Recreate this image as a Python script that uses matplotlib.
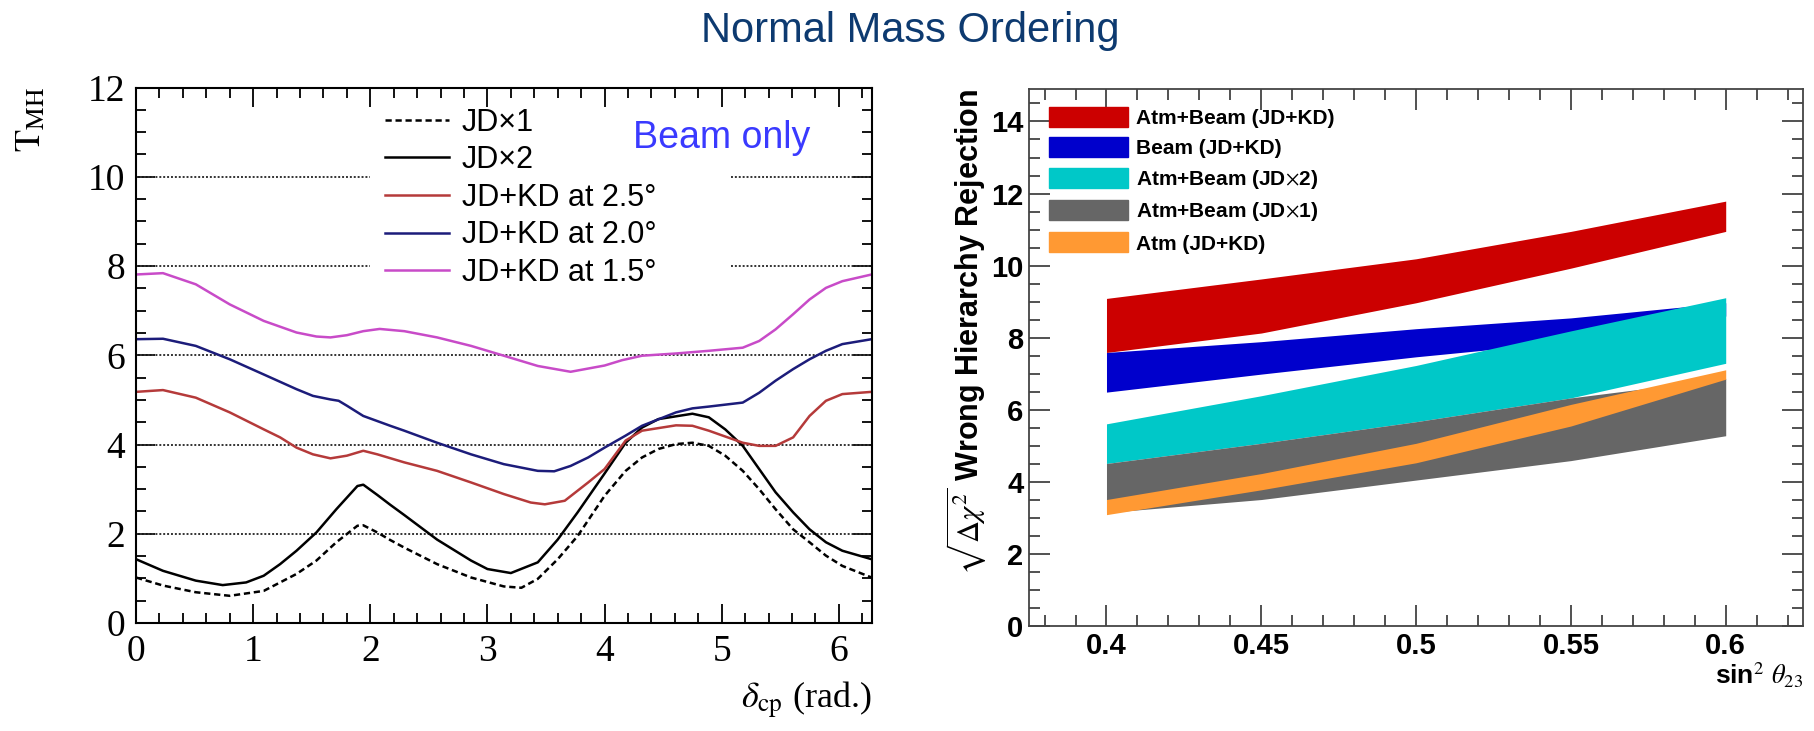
import numpy as np
import matplotlib
matplotlib.use("Agg")
import matplotlib.pyplot as plt
from matplotlib.patches import Patch
from matplotlib.ticker import MultipleLocator

plt.rcParams['mathtext.fontset'] = 'stix'

# left panel: T_MH vs delta_cp (beam only)
jd1_x = [0, 0.23, 0.51, 0.8, 1.09, 1.37, 1.54, 1.71, 1.89, 1.94, 2.06, 2.17, 2.29, 2.57, 2.86, 3.14, 3.29, 3.43,
         3.6, 3.77, 4.0, 4.18, 4.32, 4.46, 4.61, 4.75, 4.89, 5.03, 5.18, 5.32, 5.46, 5.61, 5.75, 5.89, 6.03, 6.28]
jd1_y = [1.02, 0.84, 0.69, 0.61, 0.72, 1.10, 1.40, 1.81, 2.18, 2.19, 2.03, 1.86, 1.69, 1.32, 1.02, 0.82, 0.79, 0.99,
         1.43, 1.95, 2.85, 3.41, 3.71, 3.90, 4.01, 4.04, 3.97, 3.75, 3.41, 3.00, 2.55, 2.10, 1.81, 1.51, 1.28, 1.02]

jd2_x = [0, 0.23, 0.51, 0.74, 0.94, 1.09, 1.23, 1.37, 1.54, 1.71, 1.89, 1.94, 2.06, 2.17, 2.29, 2.57, 2.86, 3.0,
         3.2, 3.43, 3.6, 3.77, 4.0, 4.18, 4.32, 4.46, 4.75, 4.89, 5.03, 5.18, 5.32, 5.46, 5.61, 5.75, 5.89, 6.03, 6.28]
jd2_y = [1.43, 1.17, 0.95, 0.85, 0.91, 1.06, 1.32, 1.62, 2.03, 2.55, 3.07, 3.10, 2.87, 2.65, 2.42, 1.87, 1.40, 1.21,
         1.12, 1.36, 1.87, 2.48, 3.35, 4.04, 4.38, 4.57, 4.69, 4.61, 4.34, 3.97, 3.45, 2.93, 2.48, 2.10, 1.81, 1.62, 1.43]

kd25_x = [0, 0.23, 0.51, 0.8, 1.09, 1.23, 1.37, 1.51, 1.66, 1.8, 1.94, 2.06, 2.29, 2.57, 2.86, 3.14, 3.37, 3.49,
          3.66, 3.86, 4.0, 4.18, 4.32, 4.61, 4.75, 4.89, 5.18, 5.32, 5.46, 5.61, 5.75, 5.89, 6.03, 6.28]
kd25_y = [5.18, 5.22, 5.05, 4.72, 4.34, 4.16, 3.93, 3.78, 3.69, 3.75, 3.86, 3.78, 3.60, 3.41, 3.15, 2.89, 2.70, 2.66,
          2.74, 3.15, 3.45, 4.09, 4.31, 4.43, 4.42, 4.31, 4.04, 3.97, 3.97, 4.16, 4.64, 4.98, 5.13, 5.18]

kd20_x = [0, 0.23, 0.51, 0.8, 1.09, 1.37, 1.51, 1.66, 1.73, 1.8, 1.94, 2.17, 2.29, 2.57, 2.86, 3.14, 3.43, 3.57,
          3.71, 3.86, 4.0, 4.18, 4.32, 4.61, 4.75, 4.89, 5.18, 5.32, 5.46, 5.61, 5.75, 5.89, 6.03, 6.28]
kd20_y = [6.36, 6.37, 6.21, 5.91, 5.57, 5.24, 5.09, 5.01, 4.98, 4.87, 4.64, 4.42, 4.31, 4.04, 3.78, 3.56, 3.41, 3.40,
          3.52, 3.71, 3.93, 4.20, 4.42, 4.72, 4.81, 4.85, 4.94, 5.16, 5.43, 5.69, 5.91, 6.10, 6.25, 6.36]

kd15_x = [0, 0.23, 0.51, 0.8, 1.09, 1.37, 1.54, 1.66, 1.8, 1.94, 2.08, 2.29, 2.57, 2.86, 3.14, 3.43, 3.71, 4.0,
          4.15, 4.32, 4.61, 4.89, 5.18, 5.32, 5.46, 5.61, 5.75, 5.89, 6.03, 6.28]
kd15_y = [7.81, 7.84, 7.59, 7.14, 6.77, 6.51, 6.42, 6.40, 6.45, 6.54, 6.59, 6.54, 6.40, 6.21, 5.99, 5.76, 5.63, 5.77,
          5.89, 5.99, 6.04, 6.10, 6.17, 6.32, 6.58, 6.92, 7.25, 7.51, 7.66, 7.81]

# right panel: bands vs sin^2 theta23
s23 = [0.40, 0.45, 0.50, 0.55, 0.60]
atmbeam_kd_lo = [7.59, 8.13, 8.97, 9.93, 10.95]
atmbeam_kd_hi = [9.09, 9.63, 10.19, 10.95, 11.79]
beam_kd_lo = [6.49, 6.99, 7.47, 7.89, 8.60]
beam_kd_hi = [7.59, 7.89, 8.25, 8.55, 8.97]
atmbeam_jd2_lo = [4.51, 5.07, 5.67, 6.33, 7.29]
atmbeam_jd2_hi = [5.61, 6.39, 7.23, 8.19, 9.11]
atmbeam_jd1_lo = [3.15, 3.51, 4.05, 4.59, 5.28]
atmbeam_jd1_hi = [4.51, 5.07, 5.67, 6.33, 6.87]
atm_kd_lo = [3.09, 3.78, 4.53, 5.55, 6.85]
atm_kd_hi = [3.51, 4.23, 5.07, 6.15, 7.11]

fig = plt.figure(figsize=(18.14, 7.31), dpi=100)
fig.text(0.502, 0.958, "Normal Mass Ordering", ha="center", va="center",
         fontsize=30, color="#0d3a70", family="Liberation Sans")

# ---------------- left
ax1 = fig.add_axes([0.075, 0.1477, 0.4057, 0.7326])
serif = "Liberation Serif"
dot = (0, (1, 1))
for yy in [2, 4, 6]:
    ax1.plot([0, 2 * np.pi], [yy, yy], ls=dot, color="#333333", lw=1.4)
# the legend box hides the middle of the 8 and 10 lines
for yy in [8, 10]:
    ax1.plot([0, 2.0], [yy, yy], ls=dot, color="#333333", lw=1.4)
    ax1.plot([5.08, 2 * np.pi], [yy, yy], ls=dot, color="#333333", lw=1.4)

l1, = ax1.plot(jd1_x, jd1_y, color="black", ls=(0, (2.5, 1.5)), lw=1.8)
l2, = ax1.plot(jd2_x, jd2_y, color="black", lw=1.8)
l3, = ax1.plot(kd25_x, kd25_y, color="#b53a3a", lw=1.8)
l4, = ax1.plot(kd20_x, kd20_y, color="#1c1c7a", lw=1.8)
l5, = ax1.plot(kd15_x, kd15_y, color="#c84bc8", lw=1.8)

ax1.set_xlim(0, 2 * np.pi)
ax1.set_ylim(0, 12)
ax1.xaxis.set_major_locator(MultipleLocator(1))
ax1.xaxis.set_minor_locator(MultipleLocator(0.2))
ax1.yaxis.set_major_locator(MultipleLocator(2))
ax1.yaxis.set_minor_locator(MultipleLocator(0.5))
ax1.tick_params(which="both", direction="in", top=True, right=True, width=1.3)
ax1.tick_params(which="major", length=14, labelsize=27, pad=8)
ax1.tick_params(which="minor", length=7)
for lab in ax1.get_xticklabels() + ax1.get_yticklabels():
    lab.set_family(serif)
for sp in ax1.spines.values():
    sp.set_linewidth(1.5)

ax1.set_ylabel(r"$\mathrm{T}_{\mathrm{MH}}$", fontsize=26, loc="top", labelpad=29)
ax1.set_xlabel(r"$\delta_{\mathrm{cp}}$ (rad.)", fontsize=26, loc="right",
               family=serif, labelpad=8)

ax1.legend([l1, l2, l3, l4, l5],
           ["JD×1", "JD×2", "JD+KD at 2.5°", "JD+KD at 2.0°", "JD+KD at 1.5°"],
           loc="upper left", bbox_to_anchor=(0.33, 0.974), frameon=False,
           prop={"family": "Liberation Sans", "size": 22},
           handlelength=2.1, handletextpad=0.42, labelspacing=0.25,
           borderpad=0.2, borderaxespad=0)
ax1.text(0.675, 0.905, "Beam only", transform=ax1.transAxes, fontsize=27,
         color="#3a3aff", family="Liberation Sans", ha="left", va="center")

# ---------------- right
ax2 = fig.add_axes([0.5673, 0.1436, 0.4267, 0.7346])
bold = {"family": ["Liberation Sans Narrow", "Liberation Sans"], "weight": "bold"}

bands = [
    (atmbeam_kd_lo, atmbeam_kd_hi, "#cc0000", "Atm+Beam (JD+KD)"),
    (beam_kd_lo, beam_kd_hi, "#0000cc", "Beam (JD+KD)"),
    (atmbeam_jd2_lo, atmbeam_jd2_hi, "#00c8c8", "Atm+Beam (JD$\\times$2)"),
    (atmbeam_jd1_lo, atmbeam_jd1_hi, "#666666", "Atm+Beam (JD$\\times$1)"),
    (atm_kd_lo, atm_kd_hi, "#ff9933", "Atm (JD+KD)"),
]
handles = []
for lo, hi, col, lab in bands:
    ax2.fill_between(s23, lo, hi, color=col, lw=0)
    handles.append(Patch(color=col, label=lab))

ax2.set_xlim(0.375, 0.625)
ax2.set_ylim(0, 14.9)
ax2.set_xticks([0.4, 0.45, 0.5, 0.55, 0.6])
ax2.set_xticklabels(["0.4", "0.45", "0.5", "0.55", "0.6"])
ax2.xaxis.set_minor_locator(MultipleLocator(0.01))
ax2.yaxis.set_major_locator(MultipleLocator(2))
ax2.yaxis.set_minor_locator(MultipleLocator(0.5))
ax2.tick_params(which="both", direction="in", top=True, right=True, width=1.2, color="#333333")
ax2.tick_params(which="major", length=15, labelsize=21, pad=4)
ax2.tick_params(which="minor", length=8)
for lab in ax2.get_xticklabels() + ax2.get_yticklabels():
    lab.set_family(bold["family"])
    lab.set_weight("bold")
for sp in ax2.spines.values():
    sp.set_linewidth(1.3)
    sp.set_color("#444444")

ax2.set_ylabel(r"$\sqrt{\Delta\chi^{2}}$ Wrong Hierarchy Rejection", fontsize=22,
               loc="top", labelpad=2, **bold)
ax2.set_xlabel(r"sin$^{2}$ $\theta_{23}$", fontsize=19, loc="right", labelpad=1, **bold)

ax2.legend(handles=handles, loc="upper left", bbox_to_anchor=(0.02, 0.975),
           frameon=False, prop={"family": bold["family"], "weight": "bold", "size": 15},
           handlelength=3.8, handleheight=1.1, handletextpad=0.4, labelspacing=0.45,
           borderpad=0.2, borderaxespad=0)

fig.savefig("out.png", dpi=100)
